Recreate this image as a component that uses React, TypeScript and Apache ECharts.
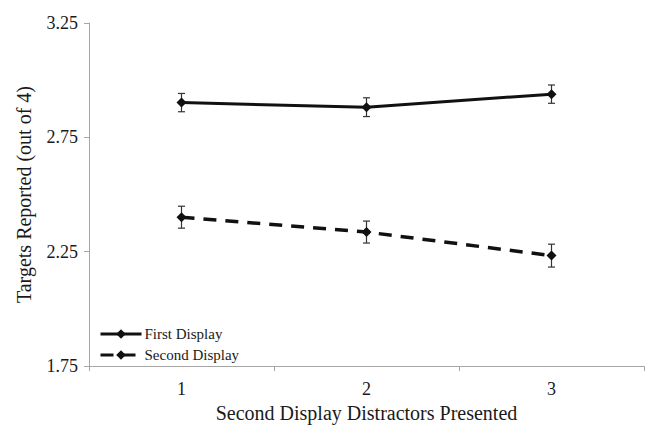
import React, { useEffect, useRef } from "react";
import * as echarts from "echarts";

const categories = ["1", "2", "3"];
const firstDisplay = [2.902, 2.882, 2.939];
const firstErr = [0.04, 0.041, 0.04];
const secondDisplay = [2.401, 2.336, 2.233];
const secondErr = [0.048, 0.048, 0.05];
const yTicks = { min: 1.75, max: 3.25, interval: 0.5 };

const FONT = "Liberation Serif";
const TEXT = "#1a1a1a";

function errorSeries(name: string, values: number[], errs: number[]) {
  return {
    type: "custom",
    name: name + " err",
    silent: true,
    z: 1,
    data: values.map((v, i) => [i, v - errs[i], v + errs[i]]),
    renderItem: (params: any, api: any) => {
      const x = api.value(0);
      const lo = api.coord([x, api.value(1)]);
      const hi = api.coord([x, api.value(2)]);
      const cx = lo[0];
      const w = 3.5;
      const style = { stroke: "#333", lineWidth: 1.2 };
      return {
        type: "group",
        children: [
          { type: "line", shape: { x1: cx, y1: lo[1], x2: cx, y2: hi[1] }, style },
          { type: "line", shape: { x1: cx - w, y1: lo[1], x2: cx + w, y2: lo[1] }, style },
          { type: "line", shape: { x1: cx - w, y1: hi[1], x2: cx + w, y2: hi[1] }, style },
        ],
      };
    },
  };
}

export default function App() {
  const ref = useRef<HTMLDivElement>(null);
  useEffect(() => {
    const chart = echarts.init(ref.current!, undefined, { renderer: "svg" });
    chart.setOption({
      animation: false,
      backgroundColor: "#fff",
      textStyle: { fontFamily: FONT, color: TEXT },
      grid: { left: 89, right: 2, top: 23, bottom: 57 },
      legend: {
        orient: "vertical",
        left: 99,
        top: 325,
        padding: 0,
        itemWidth: 41,
        itemHeight: 12,
        itemGap: 3,
        lineStyle: { width: 3 },
        data: ["First Display", "Second Display"],
        textStyle: {
          fontFamily: FONT,
          fontSize: 15,
          lineHeight: 18,
          color: TEXT,
          padding: [0, 0, 0, -2],
        },
      },
      xAxis: {
        type: "category",
        data: categories,
        boundaryGap: true,
        name: "Second Display Distractors Presented",
        nameLocation: "middle",
        nameGap: 30,
        nameTextStyle: { fontFamily: FONT, fontSize: 20, color: TEXT },
        axisLine: { lineStyle: { color: "#a6a6a6", width: 1 } },
        axisTick: { show: true, length: 5, alignWithLabel: false, lineStyle: { color: "#a6a6a6" } },
        axisLabel: { fontFamily: FONT, fontSize: 18, color: TEXT, margin: 14 },
        splitLine: { show: false },
      },
      yAxis: {
        type: "value",
        min: yTicks.min,
        max: yTicks.max,
        interval: yTicks.interval,
        name: "Targets Reported (out of 4)",
        nameLocation: "middle",
        nameGap: 55,
        nameTextStyle: { fontFamily: FONT, fontSize: 20, color: TEXT },
        axisLine: { show: true, lineStyle: { color: "#a6a6a6", width: 1 } },
        axisTick: { show: true, length: 5, lineStyle: { color: "#a6a6a6" } },
        axisLabel: {
          fontFamily: FONT,
          fontSize: 18,
          color: TEXT,
          margin: 11,
          formatter: (v: number) => v.toFixed(2),
        },
        splitLine: { show: false },
      },
      series: [
        {
          type: "line",
          name: "First Display",
          data: firstDisplay,
          symbol: "diamond",
          symbolSize: 10,
          itemStyle: { color: "#111" },
          lineStyle: { color: "#111", width: 3 },
          z: 3,
        },
        {
          type: "line",
          name: "Second Display",
          data: secondDisplay,
          symbol: "diamond",
          symbolSize: 10,
          itemStyle: { color: "#111" },
          lineStyle: { color: "#111", width: 3.5, type: [13, 9] },
          z: 3,
        },
        errorSeries("First Display", firstDisplay, firstErr),
        errorSeries("Second Display", secondDisplay, secondErr),
      ],
    });
    return () => chart.dispose();
  }, []);
  return (
    <div
      ref={ref}
      style={{ position: "absolute", left: 0, top: 0, width: 646, height: 428 }}
    />
  );
}
